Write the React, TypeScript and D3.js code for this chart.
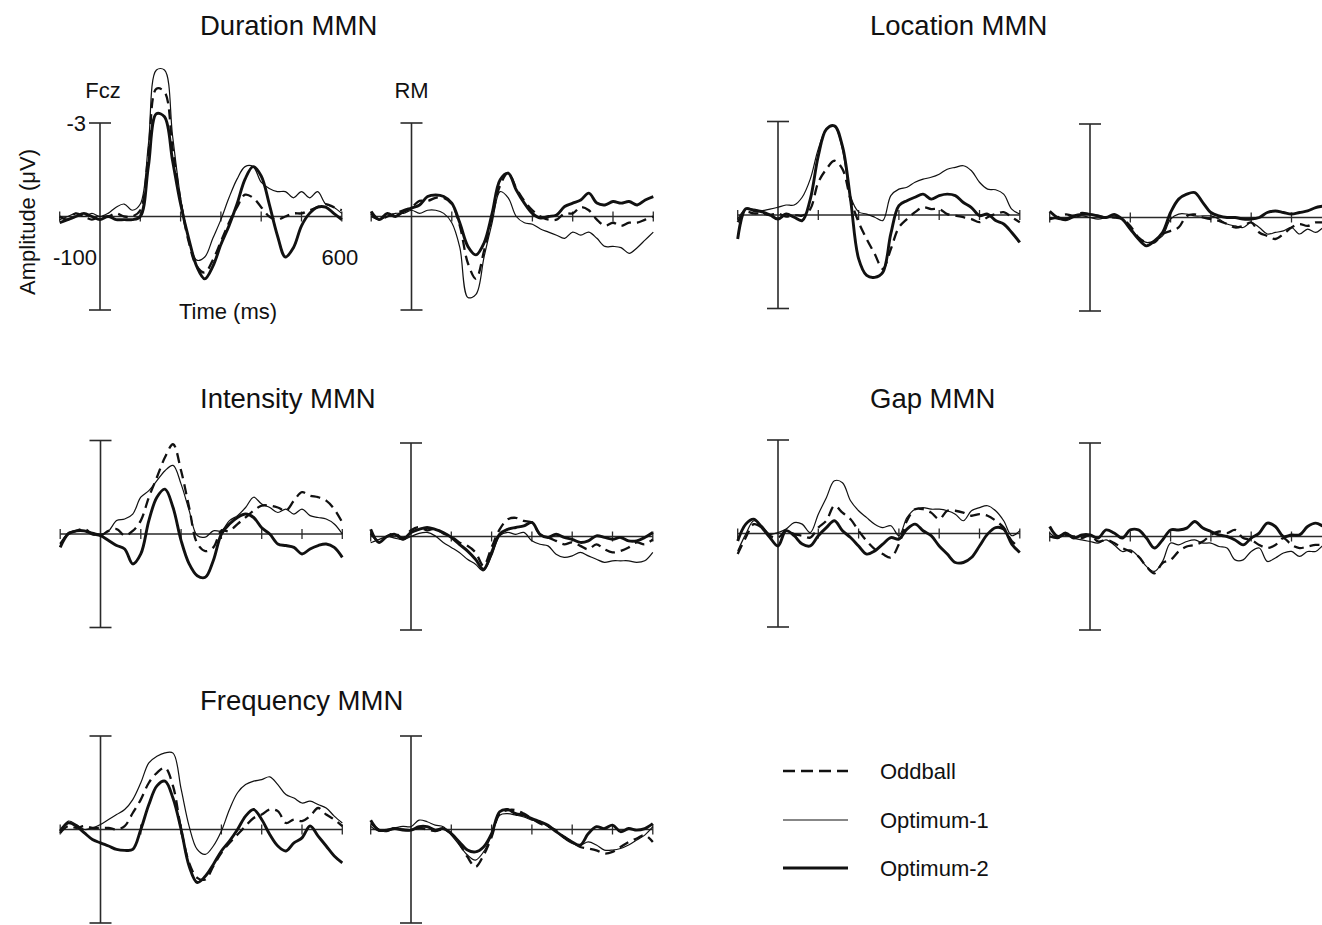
import React from "react";
import * as d3 from "d3";

// ---------- data (µV, negative up), sampled every 20 ms ----------
const TIMES = [-100, -80, -60, -40, -20, 0, 20, 40, 60, 80, 100, 120, 140, 160, 180, 200, 220, 240, 260, 280, 300, 320, 340, 360, 380, 400, 420, 440, 460, 480, 500, 520, 540, 560, 580, 600];
const TICK_TIMES = [-100, 100, 200, 300, 400, 500, 600];
const Y_DOMAIN = [-3, 3];
const SERIES = ["Oddball", "Optimum-1", "Optimum-2"];
const PANEL_TITLES = ["Duration MMN", "Location MMN", "Intensity MMN", "Gap MMN", "Frequency MMN"];

// Duration
const durFczOdd = [0.0, 0.1, -0.1, 0.0, 0.1, 0.0, 0.0, -0.1, 0.0, 0.0, -0.2, -2.0, -4.1, -4.0, -2.2, -0.5, 0.8, 1.6, 1.8, 1.4, 0.8, 0.2, -0.3, -0.7, -0.6, -0.3, 0.0, 0.1, 0.0, -0.1, -0.1, -0.2, -0.3, -0.4, -0.3, -0.2];
const durFczOpt1 = [0.1, 0.0, -0.1, 0.0, -0.1, 0.0, -0.1, -0.3, -0.4, -0.2, -0.4, -2.3, -4.7, -4.7, -2.6, -0.6, 0.7, 1.4, 1.3, 0.7, 0.1, -0.6, -1.2, -1.6, -1.6, -1.1, -0.9, -0.8, -0.8, -0.6, -0.8, -0.6, -0.8, -0.4, -0.3, -0.1];
const durFczOpt2 = [0.2, 0.1, 0.0, -0.1, 0.0, 0.1, 0.0, 0.1, 0.1, 0.1, 0.0, -1.6, -3.3, -3.2, -1.8, -0.4, 0.7, 1.6, 2.0, 1.6, 0.9, 0.3, -0.4, -1.2, -1.6, -1.3, -0.4, 0.6, 1.3, 1.0, 0.3, -0.1, -0.3, -0.3, -0.1, 0.1];
const durRmOdd = [-0.1, 0.1, 0.0, -0.1, -0.2, -0.3, -0.5, -0.5, -0.6, -0.6, -0.4, 0.3, 1.5, 2.0, 1.1, 0.0, -1.0, -1.4, -0.9, -0.5, -0.2, 0.0, 0.1, 0.1, -0.1, -0.1, -0.3, -0.2, 0.1, 0.3, 0.2, 0.3, 0.2, 0.2, 0.1, 0.0];
const durRmOpt1 = [0.0, 0.1, 0.0, -0.1, -0.1, -0.2, -0.1, -0.2, -0.2, -0.1, 0.2, 1.0, 2.6, 2.5, 1.3, 0.2, -0.8, -0.6, 0.0, 0.2, 0.25, 0.4, 0.5, 0.6, 0.7, 0.5, 0.6, 0.5, 0.7, 0.96, 0.96, 1.0, 1.18, 1.0, 0.75, 0.5];
const durRmOpt2 = [-0.16, 0.1, -0.1, 0.0, -0.16, -0.27, -0.37, -0.64, -0.69, -0.64, -0.43, 0.21, 0.96, 1.23, 0.85, -0.1, -1.18, -1.39, -0.85, -0.43, -0.1, 0.05, 0.0, -0.05, -0.32, -0.43, -0.53, -0.75, -0.43, -0.37, -0.48, -0.43, -0.48, -0.37, -0.53, -0.64];

// Location
const locFczOdd = [0.23, -0.1, -0.05, -0.05, 0.0, -0.05, 0.05, 0.0, 0.02, -0.19, -1.05, -1.47, -1.74, -1.47, -0.5, 0.23, 0.77, 1.25, 1.73, 1.09, 0.4, 0.13, -0.09, -0.25, -0.19, -0.19, -0.03, 0.02, 0.07, 0.13, 0.23, 0.07, -0.03, -0.09, 0.07, 0.23];
const locFczOpt1 = [0.13, -0.19, -0.19, -0.14, -0.19, -0.25, -0.32, -0.32, -0.57, -1.15, -2.12, -2.75, -2.86, -2.1, -0.6, -0.1, -0.03, 0.07, 0.18, -0.62, -0.83, -0.89, -1.05, -1.15, -1.21, -1.31, -1.47, -1.53, -1.58, -1.42, -1.05, -0.83, -0.81, -0.67, -0.19, -0.03];
const locFczOpt2 = [0.77, -0.2, -0.14, -0.1, 0.0, 0.13, -0.03, 0.07, 0.18, -0.5, -1.9, -2.75, -2.86, -2.2, -0.5, 1.4, 1.94, 2.0, 1.84, 0.6, -0.3, -0.46, -0.57, -0.67, -0.51, -0.62, -0.67, -0.62, -0.4, -0.24, 0.02, -0.03, 0.18, 0.29, 0.56, 0.88];
const locRmOdd = [0.05, 0.0, -0.1, -0.05, -0.15, -0.1, -0.05, 0.0, 0.0, 0.05, 0.27, 0.64, 0.8, 0.8, 0.53, 0.43, 0.32, -0.05, -0.1, 0.0, 0.05, 0.11, 0.21, 0.32, 0.27, 0.16, 0.48, 0.59, 0.69, 0.53, 0.32, 0.21, 0.27, 0.16, 0.16, 0.15];
const locRmOpt1 = [0.0, 0.05, 0.1, 0.0, -0.05, 0.0, 0.05, 0.0, -0.05, 0.05, 0.32, 0.64, 0.8, 0.75, 0.59, 0.05, -0.11, -0.11, -0.05, -0.05, -0.05, 0.05, 0.21, 0.27, 0.32, 0.16, 0.32, 0.53, 0.48, 0.43, 0.32, 0.53, 0.37, 0.48, 0.32, 0.3];
const locRmOpt2 = [-0.2, 0.0, 0.05, -0.05, -0.1, -0.1, -0.05, 0.0, -0.1, 0.05, 0.37, 0.69, 0.91, 0.75, 0.48, -0.16, -0.59, -0.75, -0.8, -0.48, -0.16, -0.05, 0.0, 0.0, 0.05, 0.05, 0.0, -0.16, -0.21, -0.16, -0.11, -0.16, -0.21, -0.32, -0.37, -0.43];

// Intensity
const intFczOdd = [0.32, 0.0, -0.1, -0.16, 0.0, 0.05, -0.1, -0.16, 0.05, -0.1, -0.43, -1.18, -1.82, -2.46, -2.88, -2.03, -0.85, 0.3, 0.55, 0.43, -0.1, -0.1, -0.32, -0.53, -0.75, -0.91, -0.91, -0.85, -0.75, -1.07, -1.34, -1.23, -1.18, -1.07, -0.8, -0.37];
const intFczOpt1 = [0.37, -0.05, -0.1, -0.1, -0.05, 0.0, -0.1, -0.43, -0.48, -0.64, -1.18, -1.39, -1.71, -2.03, -2.2, -1.6, -0.75, 0.05, 0.1, -0.1, -0.1, -0.43, -0.59, -0.85, -1.18, -0.96, -0.85, -0.69, -0.8, -0.64, -0.8, -0.59, -0.53, -0.48, -0.32, 0.0];
const intFczOpt2 = [0.43, 0.0, -0.1, -0.1, 0.0, 0.05, 0.21, 0.37, 0.48, 0.96, 0.64, -0.43, -1.18, -1.44, -0.85, 0.21, 0.96, 1.34, 1.39, 0.85, 0.0, -0.32, -0.53, -0.64, -0.53, -0.2, 0.0, 0.32, 0.37, 0.43, 0.64, 0.48, 0.37, 0.32, 0.43, 0.75];
const intRmOdd = [-0.1, 0.15, 0.0, -0.1, 0.05, -0.2, -0.3, -0.2, -0.25, -0.1, 0.0, 0.19, 0.3, 0.51, 0.94, 0.35, -0.23, -0.55, -0.6, -0.5, -0.45, -0.07, 0.03, 0.14, 0.25, 0.19, 0.3, 0.41, 0.25, 0.41, 0.51, 0.46, 0.35, 0.19, 0.25, 0.09];
const intRmOpt1 = [0.2, 0.1, 0.0, 0.05, 0.1, 0.0, -0.1, -0.13, -0.02, 0.19, 0.35, 0.51, 0.73, 0.89, 1.1, 0.62, -0.02, -0.13, -0.07, -0.13, 0.14, 0.25, 0.3, 0.57, 0.67, 0.62, 0.51, 0.62, 0.73, 0.83, 0.78, 0.78, 0.78, 0.83, 0.78, 0.51];
const intRmOpt2 = [-0.23, 0.19, 0.0, -0.07, 0.09, -0.13, -0.23, -0.29, -0.23, -0.13, 0.03, 0.25, 0.46, 0.73, 1.05, 0.51, -0.07, -0.23, -0.29, -0.34, -0.45, -0.07, 0.03, -0.07, 0.03, 0.09, 0.19, 0.14, -0.02, 0.03, 0.09, 0.03, 0.14, 0.14, 0.03, -0.13];

// Gap
const gapFczOdd = [0.66, 0.13, -0.3, -0.19, 0.07, 0.13, -0.09, 0.02, 0.07, 0.13, -0.19, -0.41, -0.89, -0.67, -0.46, -0.09, 0.24, 0.5, 0.66, 0.77, 0.34, -0.41, -0.78, -0.78, -0.67, -0.46, -0.73, -0.73, -0.67, -0.57, -0.62, -0.57, -0.41, -0.19, 0.24, 0.45];
const gapFczOpt1 = [0.56, 0.02, -0.41, -0.25, 0.02, -0.03, -0.14, -0.35, -0.3, -0.03, -0.62, -1.15, -1.69, -1.63, -1.05, -0.73, -0.51, -0.3, -0.19, -0.25, 0.07, -0.51, -0.78, -0.83, -0.78, -0.78, -0.73, -0.62, -0.41, -0.73, -0.83, -0.89, -0.73, -0.41, 0.07, -0.09];
const gapFczOpt2 = [0.24, -0.3, -0.46, -0.19, 0.13, 0.4, -0.09, 0.07, 0.34, 0.4, 0.07, -0.19, -0.41, -0.09, 0.13, 0.4, 0.66, 0.56, 0.34, 0.13, 0.18, -0.14, -0.3, -0.09, 0.07, 0.4, 0.66, 0.93, 0.93, 0.77, 0.4, 0.02, -0.19, -0.14, 0.34, 0.61];
const gapRmOdd = [0.0, 0.05, -0.05, 0.0, 0.05, -0.05, 0.16, 0.11, 0.21, 0.37, 0.48, 0.64, 0.96, 1.18, 0.85, 0.75, 0.48, 0.32, 0.27, 0.16, -0.05, -0.16, -0.11, -0.21, 0.05, 0.11, 0.27, 0.37, 0.27, 0.05, 0.27, 0.37, 0.32, 0.27, 0.27, 0.25];
const gapRmOpt1 = [-0.11, 0.05, -0.05, 0.05, 0.11, 0.16, 0.21, 0.11, 0.27, 0.48, 0.43, 0.64, 0.96, 1.12, 0.8, 0.21, 0.27, 0.16, 0.11, 0.21, 0.21, 0.32, 0.37, 0.75, 0.75, 0.48, 0.37, 0.8, 0.69, 0.53, 0.48, 0.64, 0.48, 0.48, 0.27, 0.2];
const gapRmOpt2 = [-0.32, 0.0, -0.11, 0.05, -0.05, -0.05, 0.05, -0.21, -0.11, 0.05, -0.21, -0.21, 0.05, 0.37, 0.11, -0.21, -0.21, -0.27, -0.48, -0.27, -0.16, -0.05, 0.0, 0.11, 0.27, 0.05, -0.11, -0.43, -0.32, 0.0, -0.05, -0.05, -0.32, -0.43, -0.32, -0.21];

// Frequency
const freqFczOdd = [0.11, -0.11, -0.05, -0.11, -0.05, -0.05, -0.05, 0.0, -0.11, -0.53, -0.96, -1.5, -1.82, -1.98, -1.39, 0.0, 1.07, 1.55, 1.6, 1.18, 0.75, 0.43, 0.16, -0.11, -0.37, -0.48, -0.64, -0.59, -0.21, -0.32, -0.27, -0.43, -0.69, -0.48, -0.32, -0.11];
const freqFczOpt1 = [0.11, -0.27, -0.16, 0.0, -0.05, -0.16, -0.32, -0.48, -0.64, -0.96, -1.5, -2.14, -2.35, -2.46, -2.45, -1.3, -0.1, 0.64, 0.8, 0.53, 0.05, -0.64, -1.18, -1.44, -1.55, -1.6, -1.69, -1.44, -1.12, -1.01, -0.85, -0.91, -0.8, -0.69, -0.43, -0.21];
const freqFczOpt2 = [0.05, -0.21, -0.11, 0.11, 0.32, 0.43, 0.53, 0.64, 0.67, 0.64, 0.0, -0.8, -1.4, -1.55, -1.0, 0.0, 1.18, 1.7, 1.5, 1.12, 0.69, 0.37, 0.0, -0.43, -0.64, -0.32, 0.16, 0.53, 0.69, 0.43, 0.27, -0.11, 0.21, 0.53, 0.85, 1.07];
const freqRmOdd = [-0.2, 0.0, 0.05, -0.05, 0.0, 0.02, -0.05, 0.0, 0.05, 0.0, 0.13, 0.45, 0.88, 1.2, 0.83, 0.24, -0.51, -0.62, -0.62, -0.51, -0.35, -0.19, -0.09, 0.02, 0.24, 0.4, 0.56, 0.61, 0.67, 0.77, 0.72, 0.56, 0.4, 0.29, 0.18, 0.4];
const freqRmOpt1 = [-0.1, 0.05, 0.0, -0.05, -0.1, -0.09, -0.3, -0.25, -0.14, -0.09, 0.18, 0.5, 0.82, 0.98, 0.72, 0.18, -0.46, -0.51, -0.46, -0.4, -0.3, -0.25, -0.09, 0.07, 0.29, 0.45, 0.5, 0.4, 0.5, 0.66, 0.66, 0.61, 0.5, 0.34, 0.18, -0.09];
const freqRmOpt2 = [-0.3, 0.02, 0.02, -0.03, 0.02, 0.02, -0.09, -0.09, 0.02, -0.03, 0.13, 0.4, 0.66, 0.72, 0.56, 0.13, -0.57, -0.64, -0.51, -0.46, -0.35, -0.25, -0.14, 0.07, 0.24, 0.4, 0.5, 0.13, -0.09, -0.03, -0.14, 0.07, -0.03, 0.02, -0.03, -0.19];

const PANEL_DATA = [
  { fcz: [durFczOdd, durFczOpt1, durFczOpt2], rm: [durRmOdd, durRmOpt1, durRmOpt2] },
  { fcz: [locFczOdd, locFczOpt1, locFczOpt2], rm: [locRmOdd, locRmOpt1, locRmOpt2] },
  { fcz: [intFczOdd, intFczOpt1, intFczOpt2], rm: [intRmOdd, intRmOpt1, intRmOpt2] },
  { fcz: [gapFczOdd, gapFczOpt1, gapFczOpt2], rm: [gapRmOdd, gapRmOpt1, gapRmOpt2] },
  { fcz: [freqFczOdd, freqFczOpt1, freqFczOpt2], rm: [freqRmOdd, freqRmOpt1, freqRmOpt2] },
];

// ---------- layout / style ----------
const FONT = "'Liberation Sans', Arial, Helvetica, sans-serif";
const INK = "#111";
const AXIS = "#2a2a2a";
const PX_PER_MS = 0.403;
const PLOT_H = 187;

const LAYOUT = [
  { titleX: 200, titleY: 35, fcz: { x0: 100, top: 123 }, rm: { x0: 411.5, top: 123 } },
  { titleX: 870, titleY: 35, fcz: { x0: 778, top: 121.5 }, rm: { x0: 1090, top: 124 } },
  { titleX: 200, titleY: 408, fcz: { x0: 100.5, top: 440.5 }, rm: { x0: 411, top: 443 } },
  { titleX: 870, titleY: 408, fcz: { x0: 778, top: 440 }, rm: { x0: 1090, top: 443 } },
  { titleX: 200, titleY: 710, fcz: { x0: 100.5, top: 736 }, rm: { x0: 411, top: 736 } },
];

const STYLES = [
  { width: 2.3, dash: "10,6" },
  { width: 1.2, dash: null },
  { width: 2.9, dash: null },
];

function Subplot({ x0, top, series }: { x0: number; top: number; series: number[][] }) {
  const x = d3.scaleLinear().domain([-100, 600]).range([x0 - 100 * PX_PER_MS, x0 + 600 * PX_PER_MS]);
  const y = d3.scaleLinear().domain(Y_DOMAIN).range([top, top + PLOT_H]);
  const line = d3
    .line<number>()
    .x((_, i) => x(TIMES[i]))
    .y((d) => y(d))
    .curve(d3.curveCatmullRom.alpha(0.5));
  const y0 = y(0);
  return (
    <g>
      <line x1={x(0)} x2={x(0)} y1={y(Y_DOMAIN[0])} y2={y(Y_DOMAIN[1])} stroke={AXIS} strokeWidth={1.6} />
      <line x1={x(0) - 11} x2={x(0) + 11} y1={y(Y_DOMAIN[0])} y2={y(Y_DOMAIN[0])} stroke={AXIS} strokeWidth={1.6} />
      <line x1={x(0) - 11} x2={x(0) + 11} y1={y(Y_DOMAIN[1])} y2={y(Y_DOMAIN[1])} stroke={AXIS} strokeWidth={1.6} />
      <line x1={x(-100)} x2={x(600)} y1={y0} y2={y0} stroke={AXIS} strokeWidth={1.5} />
      {TICK_TIMES.map((t) => (
        <line key={t} x1={x(t)} x2={x(t)} y1={y0 - 5} y2={y0 + 5} stroke={AXIS} strokeWidth={1.3} />
      ))}
      {series.map((s, i) => (
        <path
          key={SERIES[i]}
          d={line(s) || ""}
          fill="none"
          stroke={INK}
          strokeWidth={STYLES[i].width}
          strokeDasharray={STYLES[i].dash || undefined}
          strokeLinejoin="round"
        />
      ))}
    </g>
  );
}

export default function App() {
  const L0 = LAYOUT[0];
  const xa = d3.scaleLinear().domain([-100, 600]).range([L0.fcz.x0 - 100 * PX_PER_MS, L0.fcz.x0 + 600 * PX_PER_MS]);
  const ya = d3.scaleLinear().domain(Y_DOMAIN).range([L0.fcz.top, L0.fcz.top + PLOT_H]);
  const legendY = [771, 820, 868];
  return (
    <div style={{ position: "absolute", left: 0, top: 0 }}>
      <svg width={1322} height={925} style={{ display: "block", overflow: "hidden", background: "#fff" }} fontFamily={FONT}>
        <rect x={0} y={0} width={1322} height={925} fill="#fff" />
        {PANEL_DATA.map((p, i) => (
          <g key={PANEL_TITLES[i]}>
            <text x={LAYOUT[i].titleX} y={LAYOUT[i].titleY} fontSize={27.5} fill={INK}>
              {PANEL_TITLES[i]}
            </text>
            <Subplot x0={LAYOUT[i].fcz.x0} top={LAYOUT[i].fcz.top} series={p.fcz} />
            <Subplot x0={LAYOUT[i].rm.x0} top={LAYOUT[i].rm.top} series={p.rm} />
          </g>
        ))}
        <text x={xa(0) + 3} y={98} fontSize={22} textAnchor="middle" fill={INK}>Fcz</text>
        <text x={LAYOUT[0].rm.x0} y={98} fontSize={22} textAnchor="middle" fill={INK}>RM</text>
        <text x={xa(0) - 14} y={ya(-3) + 8} fontSize={22} textAnchor="end" fill={INK}>-3</text>
        <text x={xa(0) - 3} y={265} fontSize={22} textAnchor="end" fill={INK}>-100</text>
        <text x={xa(600) - 2} y={265} fontSize={22} textAnchor="middle" fill={INK}>600</text>
        <text x={228} y={319} fontSize={22} textAnchor="middle" fill={INK}>Time (ms)</text>
        <text transform={`translate(35,222) rotate(-90)`} fontSize={22} textAnchor="middle" fill={INK}>Amplitude (μV)</text>
        {SERIES.map((s, i) => (
          <g key={s}>
            <line x1={783} x2={848} y1={legendY[i]} y2={legendY[i]} stroke={INK} strokeWidth={STYLES[i].width} strokeDasharray={STYLES[i].dash ? "12,6" : undefined} />
            <text x={880} y={legendY[i] + 8} fontSize={22} fill={INK}>{s}</text>
          </g>
        ))}
      </svg>
    </div>
  );
}
